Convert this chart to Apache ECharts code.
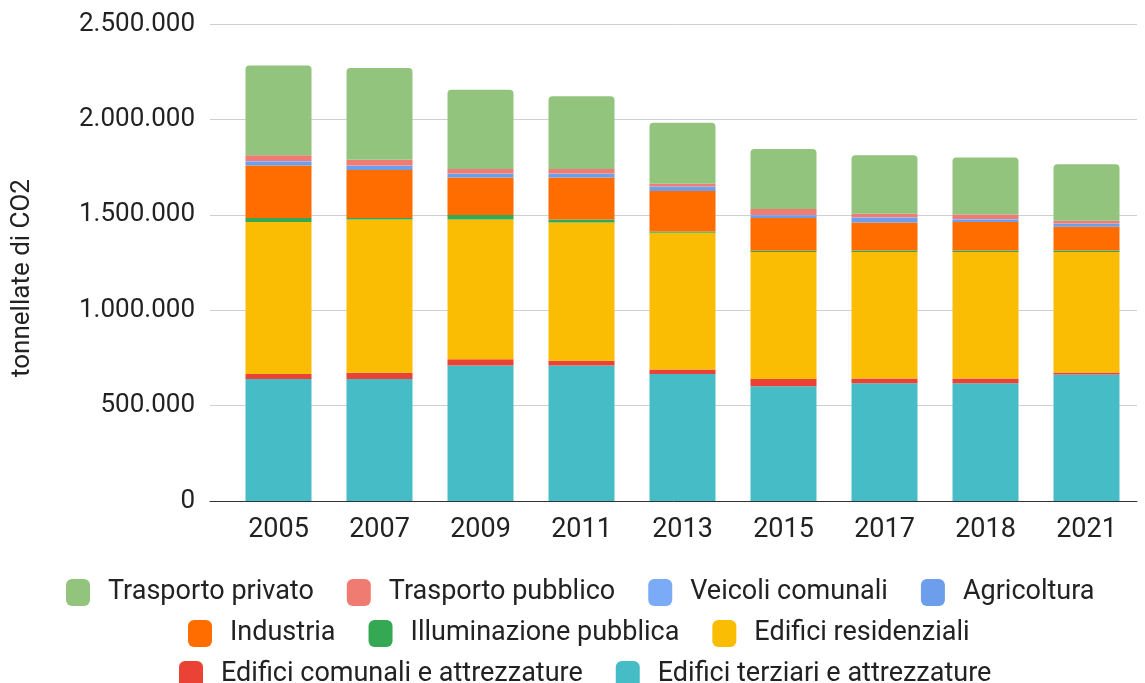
<!DOCTYPE html>
<html>
<head>
<meta charset="utf-8">
<script src="https://cdn.jsdelivr.net/npm/echarts@6/dist/echarts.min.js"></script>
<style>
  html, body { margin: 0; padding: 0; background: #fff; }
  #chart { width: 1145px; height: 683px; }
</style>
</head>
<body>
<div id="chart"></div>
<script>
// Emissioni di CO2 per settore (tonnellate)
const years = ['2005', '2007', '2009', '2011', '2013', '2015', '2017', '2018', '2021'];

const edificiTerziari     = [640000, 640000, 710000, 710000, 665000, 602000, 617000, 617000, 663000];
const edificiComunali     = [26000, 32000, 33000, 25000, 24000, 38000, 25000, 25000, 10000];
const edificiResidenziali = [796000, 804000, 733000, 725000, 717000, 665000, 663000, 663000, 632000];
const illuminazione       = [21000, 7000, 23000, 16000, 7000, 7000, 8000, 8000, 8000];
const industria           = [275000, 252000, 197000, 220000, 212000, 171000, 147000, 149000, 125000];
const agricoltura         = [22000, 22000, 19000, 19000, 21000, 14000, 25000, 14000, 15000];
const veicoliComunali     = [2000, 2000, 2000, 2000, 2000, 2000, 2000, 2000, 2000];
const trasportoPubblico   = [30000, 30000, 23000, 23000, 15000, 31000, 19000, 23000, 14000];
const trasportoPrivato    = [470000, 481000, 415000, 381000, 319000, 315000, 306000, 299000, 296000];

const yTicks = [0, 500000, 1000000, 1500000, 2000000, 2500000];

// Bottom-to-top stacking order
const seriesDefs = [
  { name: 'Edifici terziari e attrezzature', data: edificiTerziari, color: '#46bdc6' },
  { name: 'Edifici comunali e attrezzature', data: edificiComunali, color: '#ea4335' },
  { name: 'Edifici residenziali', data: edificiResidenziali, color: '#fbbc04' },
  { name: 'Illuminazione pubblica', data: illuminazione, color: '#34a853' },
  { name: 'Industria', data: industria, color: '#ff6d01' },
  { name: 'Agricoltura', data: agricoltura, color: '#6d9eeb' },
  { name: 'Veicoli comunali', data: veicoliComunali, color: '#7baaf7' },
  { name: 'Trasporto pubblico', data: trasportoPubblico, color: '#f07b72' },
  { name: 'Trasporto privato', data: trasportoPrivato, color: '#93c47d' }
];

const legendRows = [
  ['Trasporto privato', 'Trasporto pubblico', 'Veicoli comunali', 'Agricoltura'],
  ['Industria', 'Illuminazione pubblica', 'Edifici residenziali'],
  ['Edifici comunali e attrezzature', 'Edifici terziari e attrezzature']
];
const legendTops = [574, 615, 656];
const legendLefts = [61, 183, 174];

const fontFamily = 'Roboto, "Noto Sans", sans-serif';
const fmt = v => String(v).replace(/\B(?=(\d{3})+(?!\d))/g, '.');

const yMin = yTicks[0];
const yMax = yTicks[yTicks.length - 1];
const yStep = yTicks[1] - yTicks[0];

const chart = echarts.init(document.getElementById('chart'), null, { renderer: 'canvas' });

const option = {
  animation: false,
  backgroundColor: '#ffffff',
  textStyle: { fontFamily },
  grid: [
    { left: 228, width: 909, top: 24, height: 477, containLabel: false },
    { left: 210, right: 8, top: 24, height: 477, containLabel: false }
  ],
  xAxis: [
    {
      type: 'category', gridIndex: 0, data: years,
      axisLine: { show: false }, axisTick: { show: false },
      axisLabel: { color: '#222', fontSize: 27, margin: 16, fontFamily }
    },
    {
      type: 'value', gridIndex: 1, min: 0, max: 1,
      axisLine: { show: true, onZero: false, lineStyle: { color: '#333', width: 1 } },
      axisTick: { show: false }, axisLabel: { show: false }, splitLine: { show: false }
    }
  ],
  yAxis: [
    {
      type: 'value', gridIndex: 0, min: yMin, max: yMax, interval: yStep,
      axisLine: { show: false }, axisTick: { show: false },
      axisLabel: { show: false }, splitLine: { show: false }
    },
    {
      type: 'value', gridIndex: 1, min: yMin, max: yMax, interval: yStep,
      axisLine: { show: false }, axisTick: { show: false },
      axisLabel: { color: '#222', fontSize: 26, margin: 15, fontFamily, formatter: fmt },
      splitLine: { lineStyle: { color: '#d0d0d0', width: 1 } }
    }
  ],
  legend: legendRows.map((row, i) => ({
    data: row,
    left: legendLefts[i],
    top: legendTops[i],
    orient: 'horizontal',
    itemWidth: 24,
    itemHeight: 27,
    itemGap: 33,
    icon: 'roundRect',
    selectedMode: false,
    textStyle: { color: '#222', fontSize: 27, fontFamily, padding: [0, 0, 0, 13], lineHeight: 27 }
  })),
  graphic: [
    {
      type: 'text',
      x: 22, y: 278,
      rotation: Math.PI / 2,
      style: {
        text: 'tonnellate di CO2',
        fill: '#222',
        font: '26px ' + fontFamily,
        textAlign: 'center',
        textVerticalAlign: 'middle'
      }
    }
  ],
  series: seriesDefs.map((s, idx) => ({
    name: s.name,
    type: 'bar',
    stack: 'co2',
    xAxisIndex: 0,
    yAxisIndex: 0,
    barWidth: 66,
    data: s.data,
    itemStyle: {
      color: s.color,
      borderRadius: idx === seriesDefs.length - 1 ? [4, 4, 0, 0] : 0
    },
    emphasis: { disabled: true }
  }))
};

chart.setOption(option);
</script>
</body>
</html>
